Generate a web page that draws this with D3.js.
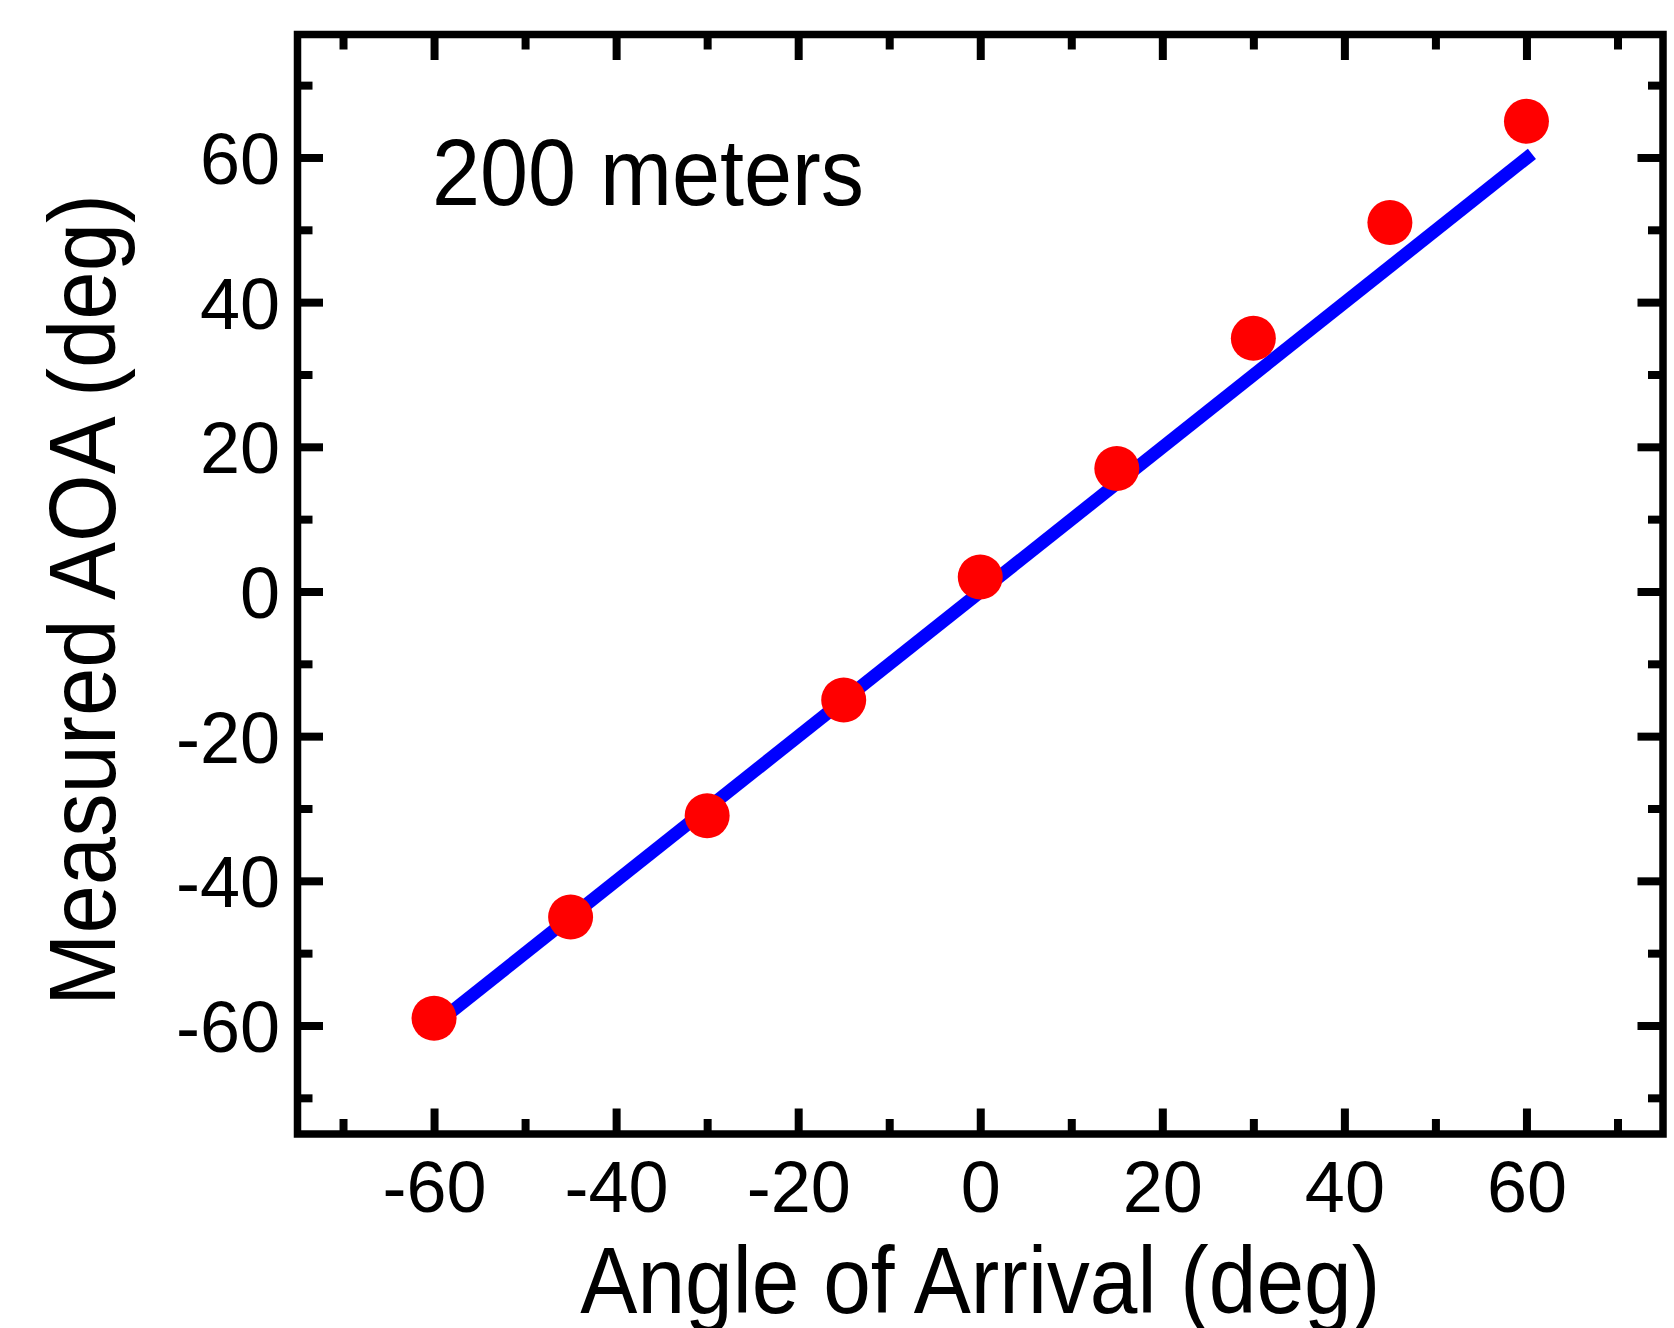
<!DOCTYPE html>
<html>
<head>
<meta charset="utf-8">
<script src="https://cdn.jsdelivr.net/npm/d3@7"></script>
<style>
	body { margin: 0; background: #fff; }
	text { font-family: "Liberation Sans", Arial, sans-serif; fill: #000; }
</style>
</head>
<body>
<div id="container_aoa"></div>
<script>
// data
var trueAngle = [-60, -45, -30, -15, 0, 15, 30, 45, 60];
var measuredAngle = [-59, -45, -31, -15, 2, 17, 35, 51, 65];

// fitted line (end points)
var fitX = [-60, 60.6];
var fitY = [-60, 60.5];

// ticks
var majorTicks = [-60, -40, -20, 0, 20, 40, 60];
var minorTicks = [-70, -50, -30, -10, 10, 30, 50, 70];

var xTitle = "Angle of Arrival (deg)",
	yTitle = "Measured AOA (deg)",
	note = "200 meters";

(function () {
	var W = 1674, H = 1328;
	var frame = {left: 297.5, right: 1663, top: 34.5, bottom: 1134};
	var majorLen = 25.5, minorLen = 15;

	// scales
	var xScale = d3.scaleLinear()
		.domain([-75, 75])
		.range([frame.left, frame.right]);

	var yScale = d3.scaleLinear()
		.domain([-75, 77])
		.range([frame.bottom, frame.top]);

	var svg = d3.select("#container_aoa")
		.append("svg")
			.attr("width", W)
			.attr("height", H);

	// fit line
	var pts = fitX.map(function(d, i) { return [d, fitY[i]]; });
	svg.append("path")
		.datum(pts)
		.attr("d", d3.line()
			.x(function(d) { return xScale(d[0]); })
			.y(function(d) { return yScale(d[1]); }))
		.attr("fill", "none")
		.attr("stroke", "#0000ff")
		.attr("stroke-width", 13);

	// points
	svg.selectAll(".dot")
		.data(trueAngle)
		.enter()
		.append("circle")
			.attr("class", "dot")
			.attr("cx", function(d) { return xScale(d); })
			.attr("cy", function(d, i) { return yScale(measuredAngle[i]); })
			.attr("r", 22.5)
			.attr("fill", "#ff0000");

	// axes, ticks pointing inward on all four sides
	function addAxis(axisFn, scale, values, len, tx, ty, labels) {
		var g = svg.append("g")
			.attr("transform", "translate(" + tx + "," + ty + ")")
			.call(axisFn(scale)
				.tickValues(values)
				.tickSize(-len)
				.tickPadding(axisFn === d3.axisBottom ? 27 : 17.5)
				.tickFormat(labels ? d3.format("d") : ""));
		g.select(".domain").remove();
		g.selectAll(".tick line")
			.attr("stroke", "#000")
			.attr("stroke-width", 8);
		g.selectAll(".tick text")
			.attr("font-size", 72)
			.attr("font-family", "Liberation Sans, Arial, sans-serif")
			.attr("fill", "#000");
		return g;
	}

	var fmt = function(d) { return d < 0 ? "-" + Math.abs(d) : "" + d; };

	var gx = addAxis(d3.axisBottom, xScale, majorTicks, majorLen, 0, frame.bottom, true);
	gx.selectAll(".tick text").text(fmt);
	addAxis(d3.axisBottom, xScale, minorTicks, minorLen, 0, frame.bottom, false);
	addAxis(d3.axisTop, xScale, majorTicks, majorLen, 0, frame.top, false);
	addAxis(d3.axisTop, xScale, minorTicks, minorLen, 0, frame.top, false);

	var gy = addAxis(d3.axisLeft, yScale, majorTicks, majorLen, frame.left, 0, true);
	gy.selectAll(".tick text").text(fmt).attr("dy", "0.36em");
	addAxis(d3.axisLeft, yScale, minorTicks, minorLen, frame.left, 0, false);
	addAxis(d3.axisRight, yScale, majorTicks, majorLen, frame.right, 0, false);
	addAxis(d3.axisRight, yScale, minorTicks, minorLen, frame.right, 0, false);

	// frame
	svg.append("rect")
		.attr("x", frame.left)
		.attr("y", frame.top)
		.attr("width", frame.right - frame.left)
		.attr("height", frame.bottom - frame.top)
		.attr("fill", "none")
		.attr("stroke", "#000")
		.attr("stroke-width", 7.5);

	// titles (slightly condensed like the original)
	svg.append("text")
		.attr("x", (frame.left + frame.right) / 2)
		.attr("y", 1313)
		.attr("text-anchor", "middle")
		.attr("font-size", 95)
		.attr("textLength", 800)
		.attr("lengthAdjust", "spacingAndGlyphs")
		.text(xTitle);

	svg.append("text")
		.attr("transform", "translate(115,600) rotate(-90)")
		.attr("text-anchor", "middle")
		.attr("font-size", 95)
		.attr("textLength", 812)
		.attr("lengthAdjust", "spacingAndGlyphs")
		.text(yTitle);

	svg.append("text")
		.attr("x", 432)
		.attr("y", 205)
		.attr("font-size", 95)
		.attr("textLength", 432)
		.attr("lengthAdjust", "spacingAndGlyphs")
		.text(note);
})();
</script>
</body>
</html>
